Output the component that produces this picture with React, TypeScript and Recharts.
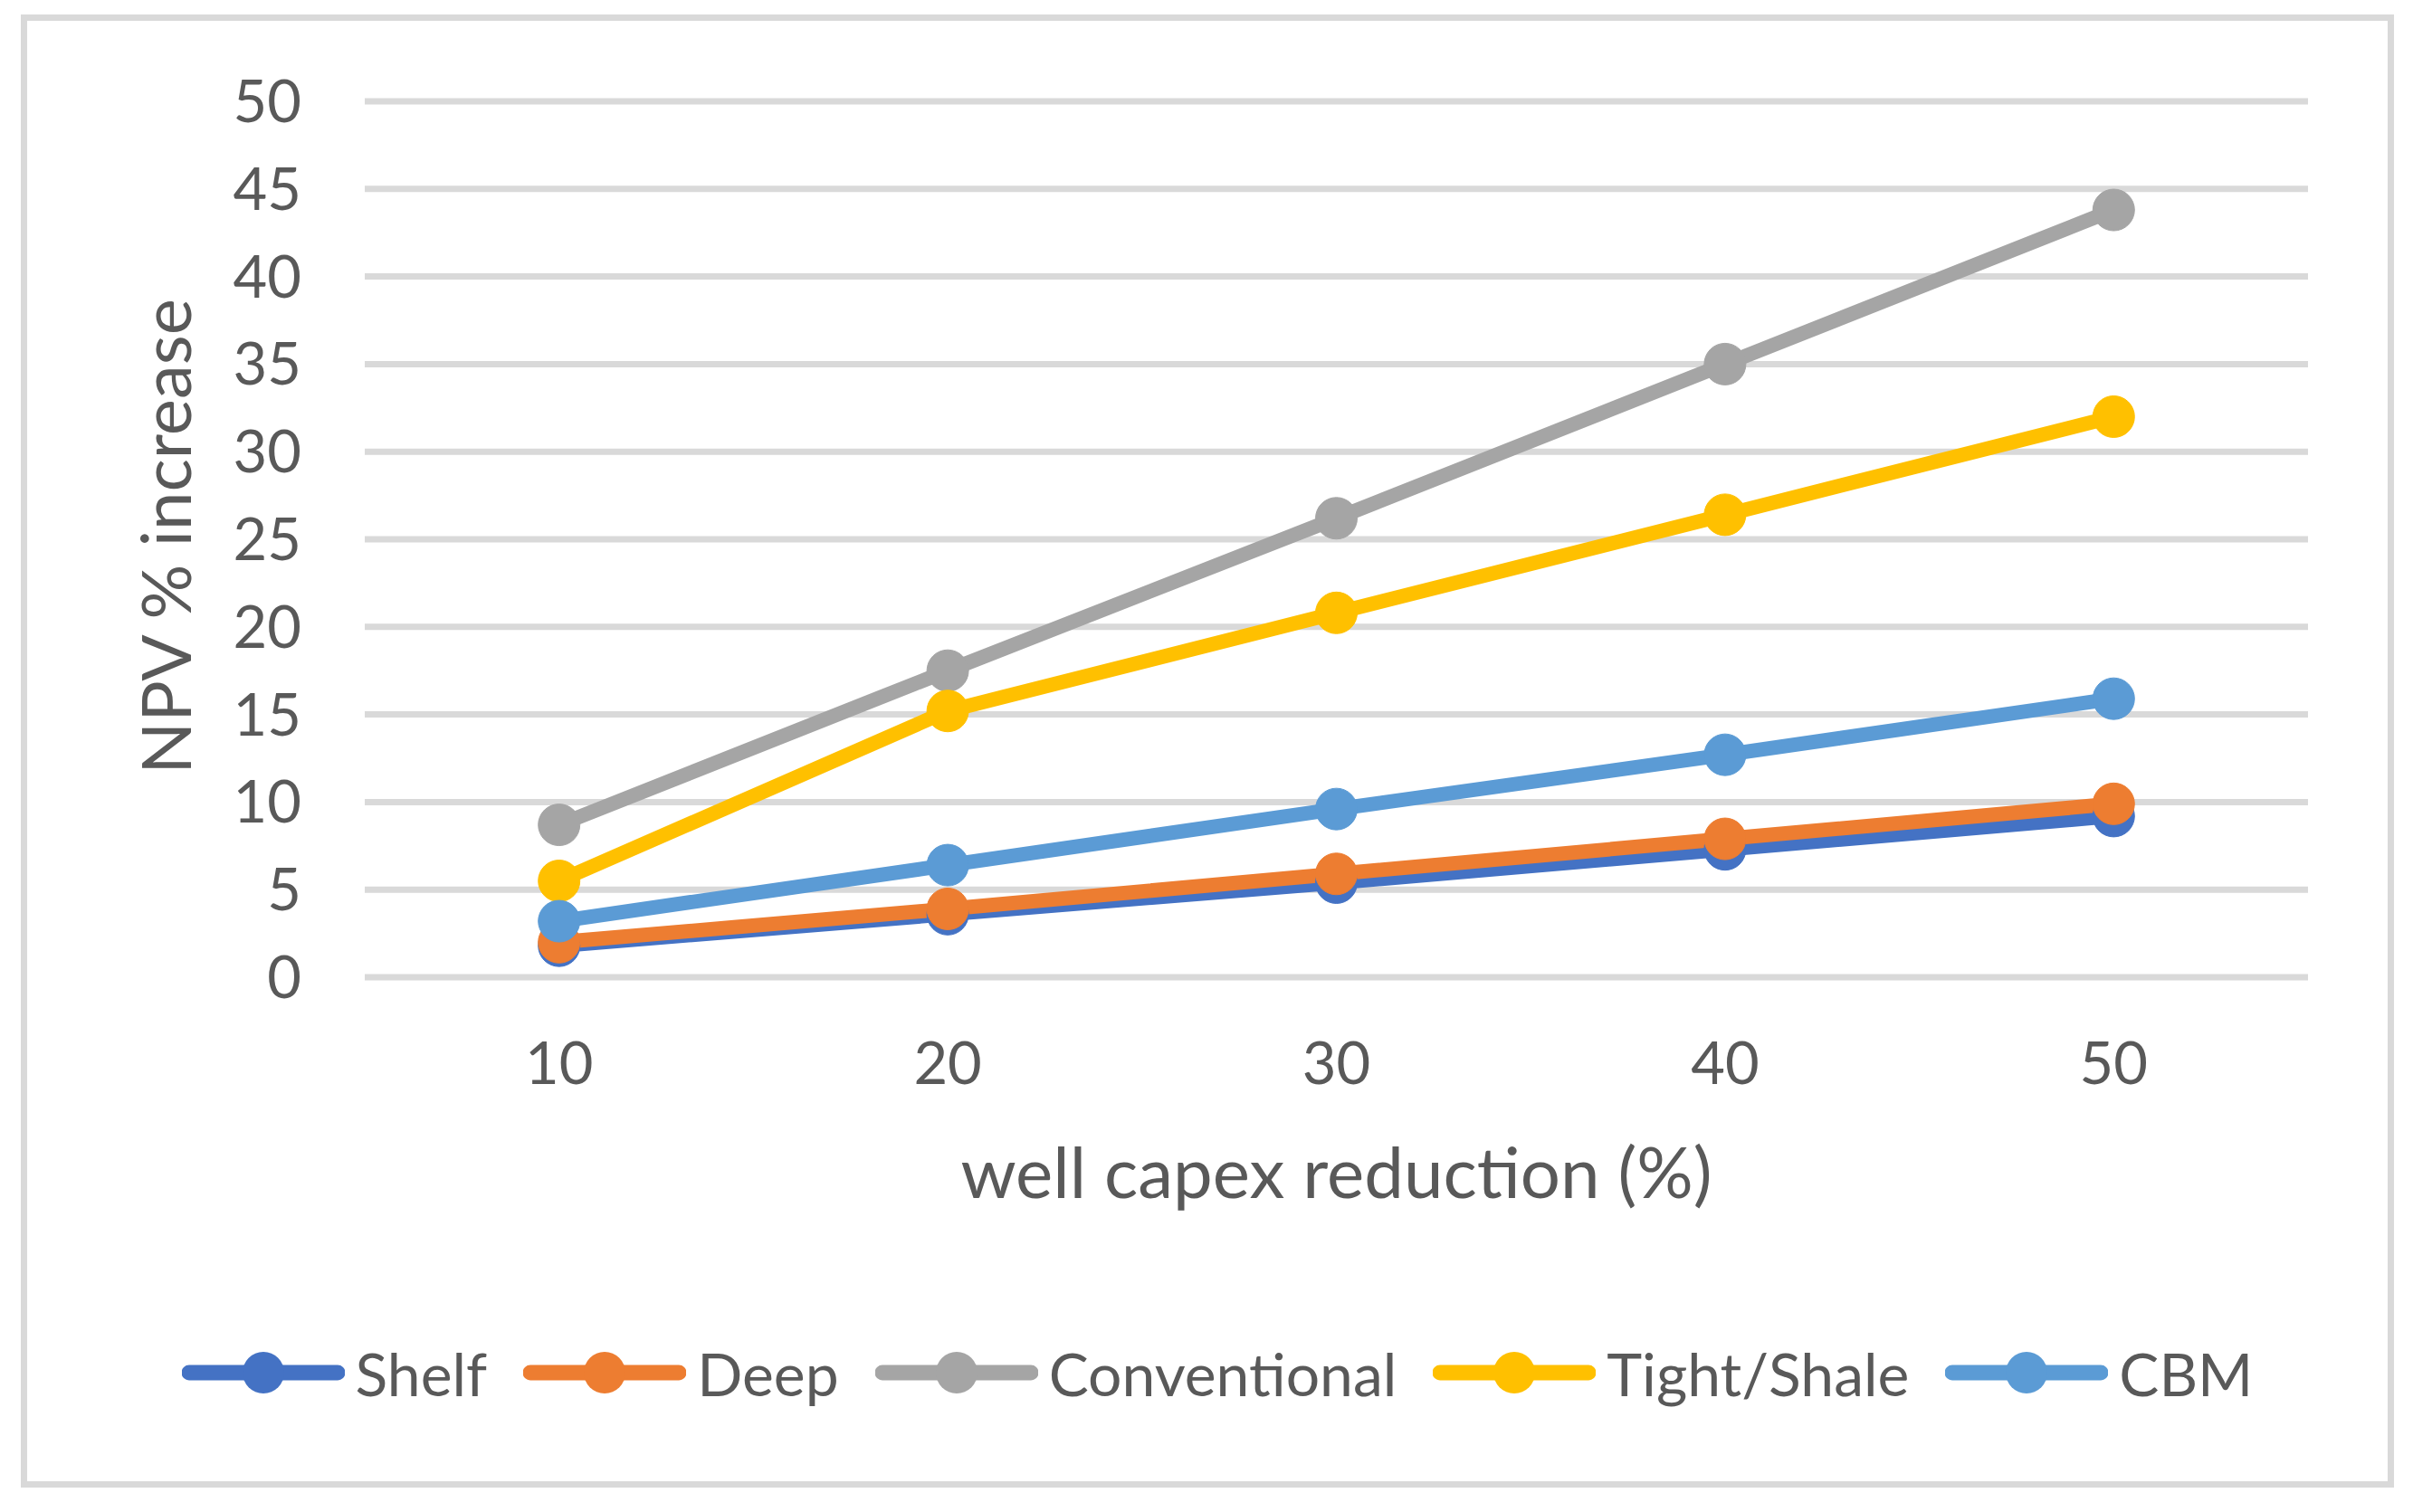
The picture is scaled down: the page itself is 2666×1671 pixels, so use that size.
import { LineChart, Line, XAxis, YAxis, CartesianGrid, Legend } from "recharts";

const reductions = ["10", "20", "30", "40", "50"];
const shelf = [1.8, 3.6, 5.4, 7.3, 9.2];
const deep = [2.0, 3.9, 5.9, 7.9, 9.9];
const conventional = [8.7, 17.5, 26.2, 35.0, 43.8];
const tightShale = [5.5, 15.2, 20.8, 26.4, 32.0];
const cbm = [3.2, 6.4, 9.6, 12.7, 15.9];
const yTicks = [0, 5, 10, 15, 20, 25, 30, 35, 40, 45, 50];

const series = [
  { key: "shelf", name: "Shelf", color: "#4472C4", values: shelf },
  { key: "deep", name: "Deep", color: "#ED7D31", values: deep },
  { key: "conventional", name: "Conventional", color: "#A5A5A5", values: conventional },
  { key: "tightShale", name: "Tight/Shale", color: "#FFC000", values: tightShale },
  { key: "cbm", name: "CBM", color: "#5B9BD5", values: cbm },
];

const data = reductions.map((r, i) => {
  const row: Record<string, string | number> = { reduction: r };
  series.forEach((s) => {
    row[s.key] = s.values[i];
  });
  return row;
});

const FONT = "Lato, 'Open Sans', sans-serif";
const TEXT = "#595959";

const YLabel = (props: any) => {
  const vb = props.viewBox || { x: 0, y: 112, width: 403, height: 968 };
  const x = vb.x + 211;
  const y = vb.y + vb.height / 2 - 3;
  return (
    <text
      x={x}
      y={y}
      transform={`rotate(-90, ${x}, ${y})`}
      textAnchor="middle"
      fill={TEXT}
      fontSize={76}
      fontFamily={FONT}
    >
      NPV % increase
    </text>
  );
};

const LegendContent = () => (
  <div
    style={{
      display: "flex",
      justifyContent: "center",
      alignItems: "center",
      height: 80,
      fontFamily: FONT,
      fontSize: 66,
      color: TEXT,
      paddingLeft: 64,
    }}
  >
    {series.map((s) => (
      <div key={s.key} style={{ display: "flex", alignItems: "center", marginRight: 40 }}>
        <svg width={180} height={50} style={{ marginRight: 12 }}>
          <line x1={8} y1={25} x2={172} y2={25} stroke={s.color} strokeWidth={17} strokeLinecap="round" />
          <circle cx={90} cy={25} r={23} fill={s.color} />
        </svg>
        <span>{s.name}</span>
      </div>
    ))}
  </div>
);

export default function App() {
  return (
    <div style={{ position: "absolute", left: 0, top: 0, width: 2666, height: 1671, background: "#fff" }}>
      <div
        style={{
          position: "absolute",
          left: 23,
          top: 16,
          width: 2622 - 14,
          height: 1628 - 14,
          border: "7px solid #D9D9D9",
        }}
      />
      <LineChart
        width={2666}
        height={1671}
        data={data}
        margin={{ top: 112, right: 116, bottom: 231, left: 0 }}
        style={{ position: "absolute", left: 0, top: 0 }}
      >
        <CartesianGrid vertical={false} stroke="#D9D9D9" strokeWidth={7} />
        <XAxis
          dataKey="reduction"
          scale="band"
          height={280}
          axisLine={false}
          tickLine={false}
          tickMargin={66}
          tick={{ fill: TEXT, fontSize: 65, fontFamily: FONT }}
          label={{
            value: "well capex reduction (%)",
            position: "insideBottom",
            offset: 36,
            fill: TEXT,
            fontSize: 78,
            fontFamily: FONT,
          }}
        />
        <YAxis
          width={403}
          domain={[0, 50]}
          ticks={yTicks}
          interval={0}
          axisLine={false}
          tickLine={false}
          tickMargin={64}
          tick={{ fill: TEXT, fontSize: 65, fontFamily: FONT }}
          label={<YLabel />}
        />
        <Legend
          verticalAlign="bottom"
          content={<LegendContent />}
          wrapperStyle={{ top: 1477, left: 0, width: 2666, height: 80, bottom: "auto" }}
        />
        {series.map((s) => (
          <Line
            key={s.key}
            dataKey={s.key}
            name={s.name}
            stroke={s.color}
            strokeWidth={16}
            dot={{ r: 23, fill: s.color, stroke: s.color, strokeWidth: 1 }}
            activeDot={false}
            isAnimationActive={false}
          />
        ))}
      </LineChart>
    </div>
  );
}
